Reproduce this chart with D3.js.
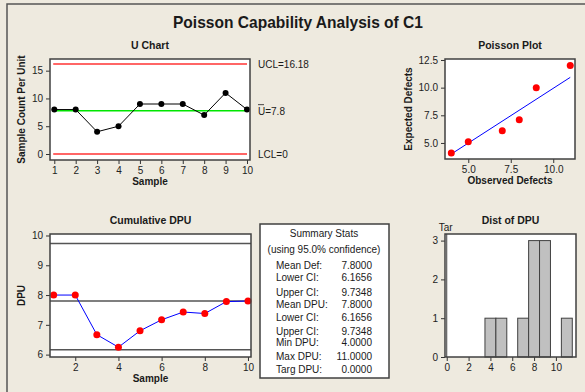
<!DOCTYPE html>
<html>
<head>
<meta charset="utf-8">
<script src="https://cdn.jsdelivr.net/npm/d3@7"></script>
<style>
  body { margin: 0; background: #eeeadf; }
  svg { display: block; }
  text { font-family: "Liberation Sans", Arial, sans-serif; fill: #1a1a1a; }
  .tick text { font-size: 10px; }
  .ttl { font-weight: bold; font-size: 10.5px; }
  .lab { font-weight: bold; font-size: 10px; }
</style>
</head>
<body>
<script>
// U chart data
var samples = [1, 2, 3, 4, 5, 6, 7, 8, 9, 10];
var defects = [8, 8, 4, 5, 9, 9, 9, 7, 11, 8];
var uLimits = [16.18, 7.8, 0];
var uLimitLabels = ['UCL=16.18', 'U=7.8', 'LCL=0'];

// poisson plot
var observed = [4, 5, 7, 8, 9, 11];
var expected = [4.1, 5.1, 6.1, 7.1, 10.0, 12.0];
var fitX = [4, 11];
var fitY = [4.0, 10.93];

// cumulative dpu
var cumDpu = [8.0, 8.0, 6.67, 6.25, 6.8, 7.17, 7.43, 7.38, 7.78, 7.8];
var ciLines = [9.7348, 7.8, 6.1656];

// summary
var statNames = ['Mean Def:', 'Lower CI:', 'Upper CI:', 'Mean DPU:', 'Lower CI:', 'Upper CI:', 'Min DPU:', 'Max DPU:', 'Targ DPU:'];
var statValues = ['7.8000', '6.1656', '9.7348', '7.8000', '6.1656', '9.7348', '4.0000', '11.0000', '0.0000'];

// dist of dpu
var binMids = [4, 5, 6, 7, 8, 9, 10, 11];
var binCounts = [1, 1, 0, 1, 3, 3, 0, 1];
var target = 0;

var W = 585, H = 392;
var svg = d3.select('body').append('svg').attr('width', W).attr('height', H);

svg.append('rect').attr('x', 7).attr('y', 4).attr('width', W).attr('height', H)
    .attr('fill', '#eeeadf').attr('stroke', '#555').attr('stroke-width', 1.5);

svg.append('text').attr('x', 298).attr('y', 28).attr('text-anchor', 'middle')
    .attr('textLength', 250).attr('lengthAdjust', 'spacingAndGlyphs')
    .style('font-weight', 'bold').style('font-size', '16.5px')
    .text('Poisson Capability Analysis of C1');

function panel(o){
    var x = d3.scaleLinear().domain(o.xd).range([o.l, o.r]);
    var y = d3.scaleLinear().domain(o.yd).range([o.b, o.t]);
    svg.append('rect').attr('x', o.l).attr('y', o.t).attr('width', o.r - o.l).attr('height', o.b - o.t)
        .attr('fill', '#fff');
    var ax = svg.append('g').attr('transform', 'translate(0,' + o.b + ')')
        .call(d3.axisBottom(x).tickValues(o.xt).tickFormat(o.xf || d3.format('d')).tickSize(4).tickSizeOuter(0));
    var ay = svg.append('g').attr('transform', 'translate(' + o.l + ',0)')
        .call(d3.axisLeft(y).tickValues(o.yt).tickFormat(o.yf || d3.format('d')).tickSize(4).tickSizeOuter(0));
    [ax, ay].forEach(function(a){
        a.select('.domain').remove();
        a.selectAll('.tick line').attr('stroke', '#333');
        a.selectAll('.tick text').style('fill', '#222');
    });
    svg.append('text').attr('class', 'ttl').attr('x', (o.l + o.r) / 2).attr('y', o.t - 10)
        .attr('text-anchor', 'middle').text(o.title);
    svg.append('text').attr('class', 'lab').attr('x', (o.l + o.r) / 2).attr('y', o.b + 25)
        .attr('text-anchor', 'middle').text(o.xlab);
    if (o.ylab) {
        svg.append('text').attr('class', 'lab')
            .attr('transform', 'translate(' + o.yx + ',' + (o.t + o.b) / 2 + ') rotate(-90)')
            .attr('text-anchor', 'middle').text(o.ylab);
    }
    return {x: x, y: y, o: o};
}

function frame(p){
    var o = p.o;
    svg.append('rect').attr('x', o.l).attr('y', o.t).attr('width', o.r - o.l).attr('height', o.b - o.t)
        .attr('fill', 'none').attr('stroke', '#404040').attr('stroke-width', 1.5);
}

// ---- U chart
var u = panel({l: 50, r: 250, t: 59, b: 160, xd: [0.8, 10.14], yd: [-1.08, 17.1],
    xt: samples, yt: [0, 5, 10, 15], title: 'U Chart', xlab: 'Sample',
    ylab: 'Sample Count Per Unit', yx: 25});
svg.selectAll('.ulim').data(uLimits).enter().append('line')
    .attr('x1', u.x(0.95)).attr('x2', u.x(10.0))
    .attr('y1', function(d){ return u.y(d); }).attr('y2', function(d){ return u.y(d); })
    .attr('stroke', function(d, i){ return i === 1 ? '#00e600' : '#ff6666'; })
    .attr('stroke-width', function(d, i){ return i === 1 ? 1.5 : 2; });
svg.append('path').datum(defects)
    .attr('d', d3.line().x(function(d, i){ return u.x(samples[i]); }).y(function(d){ return u.y(d); }))
    .attr('fill', 'none').attr('stroke', '#000').attr('stroke-width', 1);
svg.selectAll('.udot').data(defects).enter().append('circle')
    .attr('cx', function(d, i){ return u.x(samples[i]); }).attr('cy', function(d){ return u.y(d); })
    .attr('r', 3).attr('fill', '#000');
frame(u);
svg.selectAll('.ulab').data(uLimitLabels).enter().append('text')
    .attr('x', 258).attr('y', function(d, i){ return u.y(uLimits[i]) + 4; })
    .style('font-size', '10px').text(function(d){ return d; });
// bar over the U
svg.append('line').attr('x1', 258).attr('x2', 264).attr('y1', u.y(7.8) - 6).attr('y2', u.y(7.8) - 6)
    .attr('stroke', '#1a1a1a').attr('stroke-width', 0.8);

// ---- Poisson plot
var pp = panel({l: 445, r: 575, t: 59, b: 159, xd: [3.63, 11.28], yd: [3.55, 12.59],
    xt: [5, 7.5, 10], yt: [5, 7.5, 10, 12.5], xf: d3.format('.1f'), yf: d3.format('.1f'),
    title: 'Poisson Plot', xlab: 'Observed Defects', ylab: 'Expected Defects', yx: 412});
svg.append('line').attr('x1', pp.x(fitX[0])).attr('x2', pp.x(fitX[1]))
    .attr('y1', pp.y(fitY[0])).attr('y2', pp.y(fitY[1])).attr('stroke', '#0000ff').attr('stroke-width', 1);
svg.selectAll('.pdot').data(observed).enter().append('circle')
    .attr('cx', function(d){ return pp.x(d); }).attr('cy', function(d, i){ return pp.y(expected[i]); })
    .attr('r', 3.5).attr('fill', '#ff0000');
frame(pp);

// ---- Cumulative DPU
var c = panel({l: 50, r: 251, t: 234, b: 357, xd: [0.83, 10.14], yd: [5.92, 10.05],
    xt: [2, 4, 6, 8, 10], yt: [6, 7, 8, 9, 10], title: 'Cumulative DPU', xlab: 'Sample',
    ylab: 'DPU', yx: 25});
svg.selectAll('.ci').data(ciLines).enter().append('line')
    .attr('x1', c.o.l).attr('x2', c.o.r)
    .attr('y1', function(d){ return c.y(d); }).attr('y2', function(d){ return c.y(d); })
    .attr('stroke', '#555').attr('stroke-width', 1.5);
svg.append('path').datum(cumDpu)
    .attr('d', d3.line().x(function(d, i){ return c.x(samples[i]); }).y(function(d){ return c.y(d); }))
    .attr('fill', 'none').attr('stroke', '#0000ff').attr('stroke-width', 1);
svg.selectAll('.cdot').data(cumDpu).enter().append('circle')
    .attr('cx', function(d, i){ return c.x(samples[i]); }).attr('cy', function(d){ return c.y(d); })
    .attr('r', 3.5).attr('fill', '#ff0000');
frame(c);

// ---- Summary stats box
svg.append('rect').attr('x', 260).attr('y', 224).attr('width', 129).attr('height', 154)
    .attr('fill', '#fff').attr('stroke', '#404040').attr('stroke-width', 1.5);
svg.append('text').attr('x', 324).attr('y', 237).attr('text-anchor', 'middle')
    .style('font-size', '10px').text('Summary Stats');
svg.append('text').attr('x', 324).attr('y', 253).attr('text-anchor', 'middle')
    .style('font-size', '10px').text('(using 95.0% confidence)');
var rowY = [269, 281, 295.5, 308, 321, 334.5, 346, 359.5, 373];
svg.selectAll('.sn').data(statNames).enter().append('text')
    .attr('x', 276).attr('y', function(d, i){ return rowY[i]; })
    .style('font-size', '10px').text(function(d){ return d; });
svg.selectAll('.sv').data(statValues).enter().append('text')
    .attr('x', 372).attr('y', function(d, i){ return rowY[i]; }).attr('text-anchor', 'end')
    .style('font-size', '10px').text(function(d){ return d; });

// ---- Dist of DPU
var h = panel({l: 445, r: 576, t: 234, b: 357, xd: [-0.16, 11.84], yd: [0, 3.17],
    xt: [0, 2, 4, 6, 8, 10], yt: [0, 1, 2, 3], title: 'Dist of DPU', xlab: ''});
svg.selectAll('.bar').data(binCounts).enter().append('rect')
    .attr('x', function(d, i){ return h.x(binMids[i] - 0.5); })
    .attr('width', function(d, i){ return h.x(binMids[i] + 0.5) - h.x(binMids[i] - 0.5); })
    .attr('y', function(d){ return h.y(d); })
    .attr('height', function(d){ return h.y(0) - h.y(d); })
    .attr('fill', '#c0c0c0').attr('stroke', '#404040').attr('stroke-width', 1);
svg.append('line').attr('x1', h.x(target)).attr('x2', h.x(target))
    .attr('y1', h.o.t).attr('y2', h.o.b).attr('stroke', '#404040').attr('stroke-width', 1);
frame(h);
svg.append('text').attr('x', h.x(target) - 8).attr('y', 231).style('font-size', '10px').text('Tar');
</script>
</body>
</html>
